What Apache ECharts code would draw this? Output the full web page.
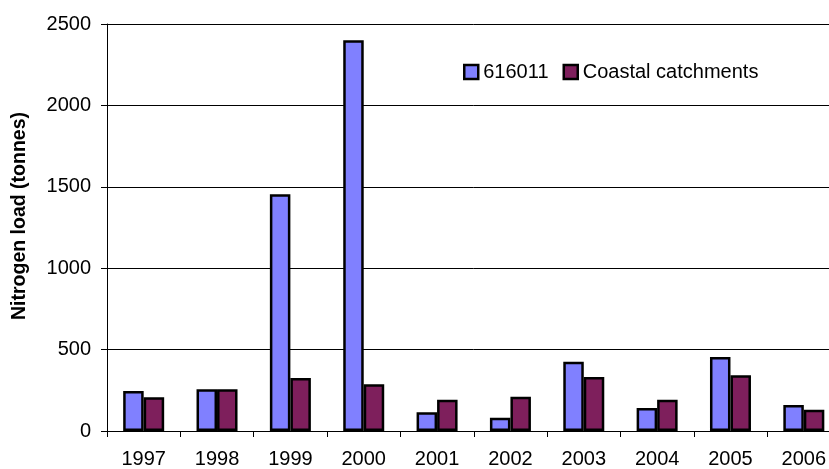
<!DOCTYPE html>
<html>
<head>
<meta charset="utf-8">
<title>Nitrogen load</title>
<script src="https://cdn.jsdelivr.net/npm/echarts@6/dist/echarts.min.js"></script>
<style>
  html, body { margin: 0; padding: 0; background: #fff; overflow: hidden; }
  #chart { width: 841px; height: 469px; }
</style>
</head>
<body>
<div id="chart"></div>
<script>
// Annual nitrogen load, gauging station 616011 vs. coastal catchments
const years = ['1997', '1998', '1999', '2000', '2001', '2002', '2003', '2004', '2005', '2006'];
const station616011 = [245, 256, 1455, 2400, 115, 82, 425, 142, 455, 160];
const coastalCatchments = [208, 256, 325, 287, 192, 210, 332, 192, 342, 130];
const yTicks = { min: 0, max: 2500, interval: 500 };

const FONT = 'Liberation Sans, Arial, sans-serif';

const chart = echarts.init(document.getElementById('chart'), null, { renderer: 'canvas' });

chart.setOption({
  animation: false,
  backgroundColor: '#ffffff',
  textStyle: { fontFamily: FONT, color: '#000' },
  grid: { left: 107, top: 24, bottom: 38, right: 0.5, containLabel: false },
  legend: {
    left: 463,
    top: 62,
    padding: 0,
    itemGap: 14,
    itemWidth: 14,
    itemHeight: 14,
    icon: 'rect',
    textStyle: { fontFamily: FONT, fontSize: 20, color: '#000', padding: [0, 0, 0, 0] },
    itemStyle: { borderColor: '#000', borderWidth: 2.5 },
    data: ['616011', 'Coastal catchments']
  },
  xAxis: {
    type: 'category',
    data: years,
    axisLine: { show: true, lineStyle: { color: '#000', width: 1 } },
    axisTick: { show: true, length: 6, alignWithLabel: false, lineStyle: { color: '#000' } },
    axisLabel: { fontFamily: FONT, fontSize: 20, color: '#000', margin: 18, interval: 0 },
    splitLine: { show: false }
  },
  yAxis: {
    type: 'value',
    min: yTicks.min,
    max: yTicks.max,
    interval: yTicks.interval,
    axisLine: { show: true, lineStyle: { color: '#000', width: 1 } },
    axisTick: { show: true, inside: false, length: 6, lineStyle: { color: '#000' } },
    axisLabel: {
      fontFamily: FONT, fontSize: 20, color: '#000', margin: 16,
      formatter: (v) => String(v)
    },
    splitLine: { show: true, lineStyle: { color: '#000', width: 1 } }
  },
  graphic: [{
    type: 'text',
    x: 20,
    y: 216,
    rotation: Math.PI / 2,
    style: {
      text: 'Nitrogen load (tonnes)',
      font: 'bold 19.5px ' + FONT,
      fill: '#000',
      align: 'center',
      verticalAlign: 'middle'
    }
  }],
  series: [
    {
      name: '616011',
      type: 'bar',
      data: station616011,
      barWidth: 20.5,
      barGap: '0%',
      itemStyle: { color: '#8080FF', borderColor: '#000', borderWidth: 2.5 }
    },
    {
      name: 'Coastal catchments',
      type: 'bar',
      data: coastalCatchments,
      barWidth: 20.5,
      barGap: '0%',
      itemStyle: { color: '#7E1F5C', borderColor: '#000', borderWidth: 2.5 }
    }
  ]
});
</script>
</body>
</html>
